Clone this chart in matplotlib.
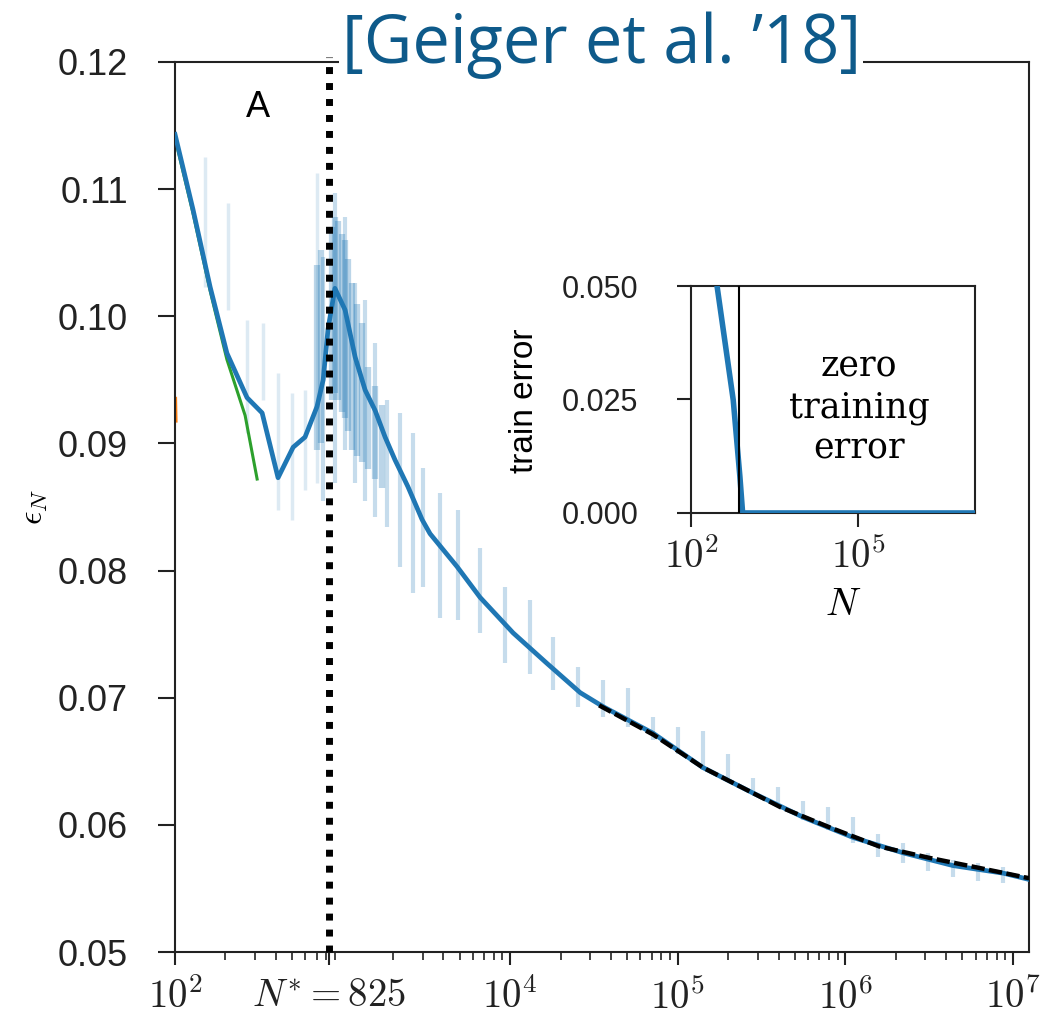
import matplotlib
matplotlib.use("Agg")
import matplotlib.pyplot as plt
from matplotlib.ticker import NullLocator

# test error curve (blue)
n_curve = [100, 128, 162, 204, 269, 331, 412, 507, 597, 704, 766, 819, 900, 1035,
           1188, 1363, 1563, 1794, 2056, 2455, 2985, 3327, 4830, 6610, 10420, 16600,
           26200, 35900, 71500, 142000, 282000, 562000, 1.12e6, 2.22e6, 4.4e6, 8.8e6, 1.26e7]
err_curve = [0.1143, 0.1084, 0.1023, 0.0971, 0.0936, 0.0924, 0.0873, 0.0897, 0.0905,
             0.0929, 0.0950, 0.0990, 0.1022, 0.1005, 0.0968, 0.0942, 0.0926, 0.0905,
             0.0887, 0.0866, 0.0840, 0.0829, 0.0803, 0.0779, 0.0751, 0.0727, 0.0704,
             0.0693, 0.0672, 0.0645, 0.0625, 0.0606, 0.0590, 0.0578, 0.0568, 0.0562, 0.0557]

# green curve, mostly hidden under the blue one
n_green = [100, 128, 162, 204, 262, 309]
err_green = [0.1140, 0.1081, 0.1020, 0.0966, 0.0922, 0.0872]

# black dashed fit at large N
n_fit = [3.4e4, 7.15e4, 1.42e5, 2.82e5, 4.1e5, 8.1e5, 1.6e6, 3.2e6, 6.4e6, 1.26e7]
err_fit = [0.0694, 0.0671, 0.0645, 0.0625, 0.0614, 0.0598, 0.0583, 0.0574, 0.0566, 0.0558]

# spread of individual runs (column N, lowest, highest), sparse part below N*
n_sparse = [151, 207, 269, 335, 412, 500, 597, 704]
sparse_lo = [0.1023, 0.1005, 0.0908, 0.0934, 0.0848, 0.0840, 0.0863, 0.0869]
sparse_hi = [0.1125, 0.1089, 0.0997, 0.0995, 0.0955, 0.0940, 0.0942, 0.1113]

n_runs = [760, 902, 1035, 1188, 1363, 1563,
          1845, 2205, 2636, 3026, 3822, 4894, 6624, 9340,
          13150, 18070, 25470, 35890, 50580, 71380, 100700, 142000, 200000, 282400,
          398100, 561000, 792000, 1.117e6, 1.574e6, 2.22e6, 3.13e6, 4.42e6, 6.22e6, 8.78e6]
runs_lo = [0.0855, 0.0869, 0.0895, 0.0869, 0.0855, 0.0842,
           0.0834, 0.0803, 0.0782, 0.0787, 0.0763, 0.0761, 0.0751, 0.0727,
           0.0719, 0.0706, 0.0693, 0.0685, 0.0677, 0.0667, 0.0656, 0.0643, 0.0637, 0.0625,
           0.0617, 0.0604, 0.0596, 0.0586, 0.0575, 0.0570, 0.0564, 0.0559, 0.0556, 0.0554]
runs_hi = [0.1047, 0.1097, 0.1078, 0.1026, 0.1013, 0.0979,
           0.0934, 0.0924, 0.0908, 0.0881, 0.0861, 0.0848, 0.0818, 0.0787,
           0.0777, 0.0748, 0.0724, 0.0714, 0.0708, 0.0685, 0.0677, 0.0674, 0.0656, 0.0637,
           0.0630, 0.0619, 0.0614, 0.0606, 0.0593, 0.0586, 0.0578, 0.0572, 0.0570, 0.0567]

# dense core of runs around the peak
n_core = [700, 740, 860, 900, 940, 990, 1040, 1080, 1140, 1220, 1300, 1420, 1570, 1730]
core_lo = [0.0895, 0.0900, 0.0934, 0.0940, 0.0934, 0.0925, 0.0920, 0.0910, 0.0895,
           0.0890, 0.0885, 0.0880, 0.0872, 0.0865]
core_hi = [0.1040, 0.1052, 0.1070, 0.1078, 0.1075, 0.1065, 0.1060, 0.1045, 0.1026,
           0.1010, 0.0995, 0.0960, 0.0945, 0.0930]

# inset: training error
n_train = [100, 289, 573, 755, 845, 1.26e7]
err_train = [0.09, 0.0506, 0.0249, 0.0080, 0.0, 0.0]

n_star = 825
y_ticks = [0.05, 0.06, 0.07, 0.08, 0.09, 0.10, 0.11, 0.12]
y_labels = ["0.05", "0.06", "0.07", "0.08", "0.09", "0.10", "0.11", "0.12"]
x_ticks = [1e2, n_star, 1e4, 1e5, 1e6, 1e7]
x_labels = [r"$10^{2}$", r"$N^{*} = 825$", r"$10^{4}$", r"$10^{5}$", r"$10^{6}$", r"$10^{7}$"]

plt.rcParams["font.family"] = ["Liberation Sans", "DejaVu Sans"]
plt.rcParams["mathtext.fontset"] = "cm"

blue = "#1f77b4"
fig = plt.figure(figsize=(10.4, 10.19), dpi=100)
ax = fig.add_axes([0.1683, 0.0657, 0.8211, 0.8735])

ax.vlines(n_sparse, sparse_lo, sparse_hi, colors=blue, alpha=0.15, lw=2.5, zorder=1)
ax.vlines(n_runs, runs_lo, runs_hi, colors=blue, alpha=0.25, lw=3, zorder=1)
ax.vlines(n_core, core_lo, core_hi, colors=blue, alpha=0.3, lw=4.5, zorder=1)
ax.plot([100, 100.6], [0.0935, 0.0918], color="#ff7f0e", lw=3, zorder=2)
ax.plot(n_green, err_green, color="#2ca02c", lw=2.2, zorder=2)
ax.plot(n_curve, err_curve, color=blue, lw=3.4, zorder=3)
ax.plot(n_fit, err_fit, color="black", lw=3.2, ls=(0, (3, 1)), zorder=4)
ax.axvline(n_star, ymin=0, ymax=1.006, color="black", lw=5, ls=(0, (1.0, 1.3)),
           dash_capstyle="butt", clip_on=False, zorder=5)

ax.set_xscale("log")
ax.set_xlim(100, 1.25e7)
ax.set_ylim(0.05, 0.12)
ax.set_yticks(y_ticks)
ax.set_yticklabels(y_labels)
ax.set_xticks(x_ticks)
ax.set_xticklabels(x_labels)
for s in ax.spines.values():
    s.set_linewidth(1.5)
    s.set_color("#222222")
ax.tick_params(axis="y", which="major", length=12, width=1.5, pad=22, labelsize=26,
               colors="#222222")
ax.tick_params(axis="x", which="major", length=9, width=1.5, pad=10, labelsize=28,
               colors="#222222")
ax.tick_params(axis="x", which="minor", length=5.5, width=1.2, colors="#222222")
ax.text(-0.164, 0.5, r"$\epsilon_N$", transform=ax.transAxes, rotation=90,
        ha="center", va="center", fontsize=24)
ax.text(0.097, 0.949, "A", transform=ax.transAxes, ha="center", va="center", fontsize=26)

fig.text(0.578, 0.938, "[Geiger et al. \u201918]", ha="center", va="baseline",
         fontsize=48, family=["Open Sans", "DejaVu Sans"], color="#0e5a8a",
         bbox=dict(facecolor="white", edgecolor="none", pad=2))

# inset with the training error
ax_in = fig.add_axes([0.6644, 0.4966, 0.2731, 0.2227])
ax_in.plot(n_train, err_train, color=blue, lw=4, zorder=3)
ax_in.axvline(730, color="black", lw=1.5, zorder=4)
ax_in.set_xscale("log")
ax_in.set_xlim(100, 1.25e7)
ax_in.set_ylim(0, 0.05)
ax_in.set_yticks([0, 0.025, 0.05])
ax_in.set_yticklabels(["0.000", "0.025", "0.050"])
ax_in.set_xticks([1e2, 1e5])
ax_in.set_xticklabels([r"$10^{2}$", r"$10^{5}$"])
ax_in.xaxis.set_minor_locator(NullLocator())
for s in ax_in.spines.values():
    s.set_linewidth(1.5)
    s.set_color("#222222")
ax_in.tick_params(axis="y", length=10, width=1.5, pad=28, labelsize=22, colors="#222222")
ax_in.tick_params(axis="x", length=10, width=1.5, pad=8, labelsize=28, colors="#222222")
ax_in.text(-0.585, 0.493, "train error", transform=ax_in.transAxes, rotation=90,
           ha="center", va="center", fontsize=24)
ax_in.text(0.535, -0.405, r"$N$", transform=ax_in.transAxes, ha="center", va="center",
           fontsize=28)
ax_in.text(0.592, 0.463, "zero\ntraining\nerror", transform=ax_in.transAxes,
           ha="center", va="center", fontsize=25, family="DejaVu Serif", linespacing=1.25)

fig.savefig("out.png", dpi=100)
